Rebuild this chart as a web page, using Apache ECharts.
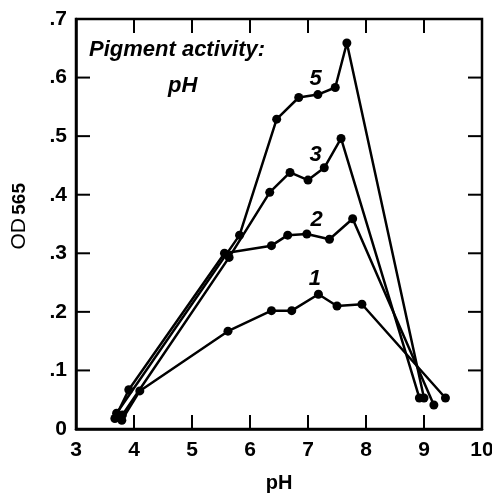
<!DOCTYPE html>
<html>
<head>
<meta charset="utf-8">
<script src="https://cdn.jsdelivr.net/npm/echarts@6/dist/echarts.min.js"></script>
<style>
  html, body { margin: 0; padding: 0; background: #fff; }
  #main { width: 492px; height: 496px; }
</style>
</head>
<body>
<div id="main"></div>
<script>
// curve data: [pH, OD565]
var curve1 = [[3.79, 0.015], [4.1, 0.065], [5.62, 0.167], [6.37, 0.202], [6.72, 0.202], [7.18, 0.23], [7.5, 0.21], [7.93, 0.213], [9.37, 0.053]];
var curve2 = [[3.67, 0.018], [3.91, 0.067], [5.56, 0.30], [6.37, 0.313], [6.65, 0.331], [6.98, 0.333], [7.37, 0.324], [7.77, 0.359], [9.17, 0.041]];
var curve3 = [[3.80, 0.024], [5.64, 0.293], [6.34, 0.404], [6.69, 0.438], [7.0, 0.425], [7.28, 0.446], [7.57, 0.496], [8.92, 0.053]];
var curve5 = [[3.70, 0.027], [5.82, 0.331], [6.46, 0.529], [6.84, 0.566], [7.17, 0.571], [7.47, 0.583], [7.67, 0.659], [9.0, 0.053]];
var curveNames = ['1', '2', '3', '5'];
// where the curve numbers are written, in data units
var namePos = [[7.12, 0.256], [7.15, 0.357], [7.13, 0.468], [7.13, 0.597]];
var xTicks = [3, 4, 5, 6, 7, 8, 9, 10];
var yTicks = [0, 0.1, 0.2, 0.3, 0.4, 0.5, 0.6, 0.7];
var yTickLabels = ['0', '.1', '.2', '.3', '.4', '.5', '.6', '.7'];

var xMin = 3, xMax = 10, yMin = 0, yMax = 0.7;
var font = 'Liberation Sans, Arial, sans-serif';
var chart = echarts.init(document.getElementById('main'));

function makeSeries(name, data, pos) {
    return {
        name: name,
        type: 'line',
        data: data,
        symbol: 'circle',
        symbolSize: 9,
        lineStyle: { color: '#000', width: 2.5 },
        itemStyle: { color: '#000' },
        z: 3,
        markPoint: {
            symbol: 'circle',
            symbolSize: 0,
            data: [{ coord: pos }],
            label: {
                show: true,
                formatter: name,
                color: '#000',
                fontFamily: font,
                fontStyle: 'italic',
                fontWeight: 'bold',
                fontSize: 22
            }
        }
    };
}

option = {
    animation: false,
    grid: {
        left: 76, right: 10, top: 19, bottom: 67,
        outerBoundsMode: 'none', containLabel: false,
        show: true, borderColor: '#000', borderWidth: 2.5, backgroundColor: 'transparent'
    },
    title: [
        {
            text: 'Pigment activity:',
            left: 84, top: 34,
            textStyle: { fontFamily: font, fontStyle: 'italic', fontWeight: 'bold', fontSize: 22, color: '#000' }
        },
        {
            text: 'pH',
            left: 163, top: 70,
            textStyle: { fontFamily: font, fontStyle: 'italic', fontWeight: 'bold', fontSize: 22, color: '#000' }
        }
    ],
    xAxis: {
        type: 'value', min: xMin, max: xMax, interval: 1,
        name: 'pH', nameLocation: 'middle', nameGap: 44,
        nameTextStyle: { fontFamily: font, fontWeight: 'bold', fontSize: 20, color: '#000' },
        axisLine: { show: true, onZero: false, lineStyle: { color: '#000', width: 2.5 } },
        axisTick: { show: false },
        splitLine: { show: false },
        axisLabel: {
            color: '#000', fontFamily: font, fontWeight: 'bold', fontSize: 21, margin: 11,
            formatter: function (v) { return xTicks.indexOf(v) >= 0 ? String(v) : ''; }
        }
    },
    yAxis: {
        type: 'value', min: yMin, max: yMax, interval: 0.1,
        axisLine: { show: true, onZero: false, lineStyle: { color: '#000', width: 2.5 } },
        axisTick: { show: false },
        splitLine: { show: false },
        axisLabel: {
            color: '#000', fontFamily: font, fontWeight: 'bold', fontSize: 21, margin: 9,
            formatter: function (v) { return yTickLabels[Math.round(v * 10)]; }
        }
    },
    series: [
        makeSeries(curveNames[0], curve1, namePos[0]),
        makeSeries(curveNames[1], curve2, namePos[1]),
        makeSeries(curveNames[2], curve3, namePos[2]),
        makeSeries(curveNames[3], curve5, namePos[3])
    ]
};
chart.setOption(option);

// inward ticks on all four sides, placed through the axis scales
var TICK = 14;
var marks = [];
xTicks.slice(1, -1).forEach(function (v) {
    var b = chart.convertToPixel({ gridIndex: 0 }, [v, yMin]);
    var t = chart.convertToPixel({ gridIndex: 0 }, [v, yMax]);
    marks.push({ type: 'rect', shape: { x: b[0] - 1, y: b[1] - TICK, width: 2, height: TICK }, style: { fill: '#000' } });
    marks.push({ type: 'rect', shape: { x: t[0] - 1, y: t[1], width: 2, height: TICK }, style: { fill: '#000' } });
});
yTicks.slice(1, -1).forEach(function (v) {
    var l = chart.convertToPixel({ gridIndex: 0 }, [xMin, v]);
    var r = chart.convertToPixel({ gridIndex: 0 }, [xMax, v]);
    marks.push({ type: 'rect', shape: { x: l[0], y: l[1] - 1, width: TICK, height: 2 }, style: { fill: '#000' } });
    marks.push({ type: 'rect', shape: { x: r[0] - TICK, y: r[1] - 1, width: TICK, height: 2 }, style: { fill: '#000' } });
});
// y axis title: OD 565, read bottom to top
marks.push({
    type: 'text', left: 9, top: 183, rotation: Math.PI / 2,
    style: {
        text: '{a|OD} {b|565}',
        rich: {
            a: { fontFamily: font, fontSize: 21, fill: '#000' },
            b: { fontFamily: font, fontWeight: 'bold', fontSize: 19, fill: '#000' }
        }
    }
});
chart.setOption({ graphic: marks });
</script>
</body>
</html>
